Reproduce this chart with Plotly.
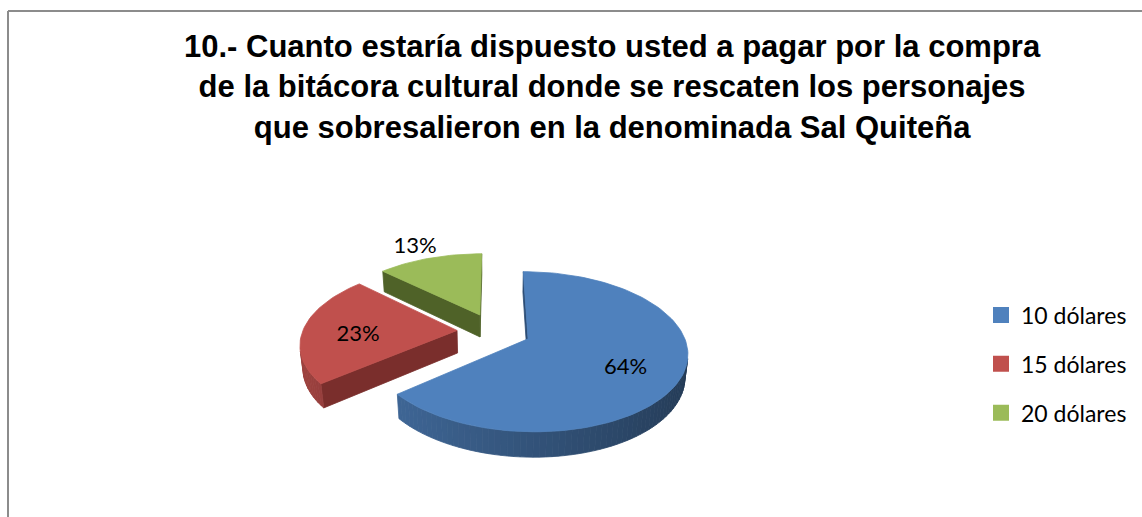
import math
import plotly.graph_objects as go

# Survey answers: price respondents would pay for the cultural logbook
categories = ["10 dólares", "15 dólares", "20 dólares"]
shares = [64, 23, 13]
title_lines = [
    "10.- Cuanto estaría dispuesto usted a pagar por la compra",
    "de la bitácora cultural donde se rescaten los personajes",
    "que sobresalieron en la denominada Sal Quiteña",
]

# styling
top_colors = [(79, 129, 189), (192, 80, 77), (155, 187, 89)]
cut_colors = [(44, 77, 117), (122, 46, 44), (79, 98, 40)]
label_radius = [0.65, 0.65, 1.35]   # >1 puts the label outside the slice

W, H = 1142, 517

# 3-D pie camera (pie radius = 1)
ELEV = math.radians(29.3)
SA, CA = math.sin(ELEV), math.cos(ELEV)
DIST, FOCAL = 5.51, 850.0
CX, CY = 494.0, 331.0        # screen position of the pie centre
THICK = 0.17                  # slab thickness
EXPLODE = 0.24                # outward offset of every slice
CAM = (0.0, -DIST * CA, DIST * SA)


def project(u, v, h):
    z = DIST + v * CA - h * SA
    return CX + FOCAL * u / z, CY - FOCAL * (v * SA + h * CA) / z, z


def rgb(c, k=1.0):
    r, g, b = (max(0, min(255, int(round(x * k)))) for x in c)
    return f"rgb({r},{g},{b})"


def poly_trace(pts, color):
    xs = [p[0] for p in pts] + [pts[0][0]]
    ys = [p[1] for p in pts] + [pts[0][1]]
    return go.Scatter(
        x=xs, y=ys, mode="lines", fill="toself", fillcolor=color,
        line=dict(color=color, width=0.8), hoverinfo="skip", showlegend=False,
    )


def facing(normal, point):
    d = [CAM[i] - point[i] for i in range(3)]
    return sum(normal[i] * d[i] for i in range(3)) > 0


total = float(sum(shares))
slices = []
acc = 0.0
for i, s in enumerate(shares):
    t0 = 2 * math.pi * acc / total
    acc += s
    t1 = 2 * math.pi * acc / total
    tm = 0.5 * (t0 + t1)
    ou, ov = EXPLODE * math.sin(tm), EXPLODE * math.cos(tm)
    n = max(10, int(math.degrees(t1 - t0) / 2))
    arc = [t0 + (t1 - t0) * k / n for k in range(n + 1)]

    polys = []   # (depth, points, colour) for the side walls
    # outer curved wall
    for a, b in zip(arc[:-1], arc[1:]):
        m = 0.5 * (a + b)
        nrm = (math.sin(m), math.cos(m), 0.0)
        mid = (ou + math.sin(m), ov + math.cos(m), -THICK / 2)
        if not facing(nrm, mid):
            continue
        quad = [
            (ou + math.sin(a), ov + math.cos(a), 0.0),
            (ou + math.sin(b), ov + math.cos(b), 0.0),
            (ou + math.sin(b), ov + math.cos(b), -THICK),
            (ou + math.sin(a), ov + math.cos(a), -THICK),
        ]
        pts = [project(*q) for q in quad]
        shade = 0.64 - 0.19 * math.sin(m)
        polys.append((sum(p[2] for p in pts) / 4, pts, rgb(top_colors[i], shade)))
    # the two radial cut faces
    for ang, nang in ((t0, t0 - math.pi / 2), (t1, t1 + math.pi / 2)):
        nrm = (math.sin(nang), math.cos(nang), 0.0)
        rim = (ou + math.sin(ang), ov + math.cos(ang))
        mid = ((ou + rim[0]) / 2, (ov + rim[1]) / 2, -THICK / 2)
        if not facing(nrm, mid):
            continue
        quad = [(ou, ov, 0.0), (rim[0], rim[1], 0.0),
                (rim[0], rim[1], -THICK), (ou, ov, -THICK)]
        pts = [project(*q) for q in quad]
        polys.append((sum(p[2] for p in pts) / 4, pts, rgb(cut_colors[i])))
    polys.sort(key=lambda p: -p[0])

    top = [project(ou, ov, 0.0)] + [
        project(ou + math.sin(a), ov + math.cos(a), 0.0) for a in arc
    ]
    lr = label_radius[i]
    lab = project(ou + lr * math.sin(tm), ov + lr * math.cos(tm), -0.3 * THICK)
    depth = project(ou + 0.5 * math.sin(tm), ov + 0.5 * math.cos(tm), 0.0)[2]
    slices.append(dict(depth=depth, walls=polys, top=top, idx=i, label=lab))

fig = go.Figure()

# far slices first so nearer ones paint over them
for sl in sorted(slices, key=lambda s: -s["depth"]):
    for _, pts, col in sl["walls"]:
        fig.add_trace(poly_trace(pts, col))
    fig.add_trace(poly_trace(sl["top"], rgb(top_colors[sl["idx"]])))

# percentage labels
for sl in slices:
    i = sl["idx"]
    fig.add_trace(go.Scatter(
        x=[sl["label"][0]], y=[sl["label"][1]], mode="text",
        text=[f"{shares[i]}%"], textposition="middle center",
        textfont=dict(family="Lato", size=22, color="#000000"),
        hoverinfo="skip", showlegend=False,
    ))

# legend entries
for i, name in enumerate(categories):
    fig.add_trace(go.Scatter(
        x=[None], y=[None], mode="markers", name=name, legendgroup=name,
        marker=dict(symbol="square", size=16, color=rgb(top_colors[i])),
    ))

fig.update_layout(
    width=W, height=H,
    margin=dict(l=0, r=0, t=0, b=0),
    paper_bgcolor="white", plot_bgcolor="white",
    xaxis=dict(range=[0, W], visible=False, fixedrange=True),
    yaxis=dict(range=[H, 0], visible=False, fixedrange=True),
    annotations=[dict(
        text="<br>".join(title_lines), xref="paper", yref="paper",
        x=612 / W, y=1 - 87 / H, xanchor="center", yanchor="middle",
        align="center", showarrow=False,
        font=dict(family="Liberation Sans", size=31, color="#000000", weight="bold"),
    )],
    showlegend=True,
    legend=dict(
        x=981 / W, xanchor="left", y=1 - 364 / H, yanchor="middle",
        font=dict(family="Lato", size=23, color="#000000"),
        tracegroupgap=16, traceorder="grouped",
        bgcolor="rgba(0,0,0,0)",
    ),
    shapes=[
        dict(type="line", xref="paper", yref="paper",
             x0=8 / W, x1=1.0, y0=1 - 11 / H, y1=1 - 11 / H,
             line=dict(color="#8C8C8C", width=2)),
        dict(type="line", xref="paper", yref="paper",
             x0=8 / W, x1=8 / W, y0=0, y1=1 - 11 / H,
             line=dict(color="#8C8C8C", width=2)),
    ],
)

fig.write_html("out.html")
